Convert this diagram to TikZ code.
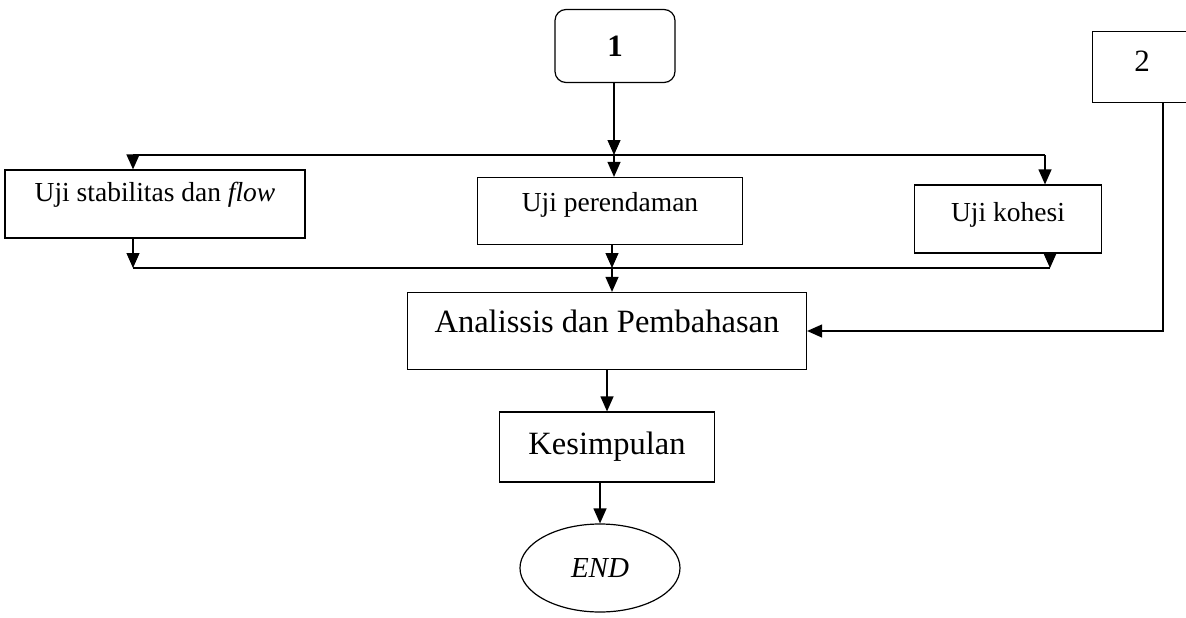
\documentclass[tikz,border=0pt]{standalone}
\usepackage{fontspec}
\setmainfont{Liberation Serif}
\usetikzlibrary{arrows.meta,positioning,shapes.geometric}
\newcommand{\lift}[2]{\raisebox{#1}[.7em][.25em]{#2}}
\tikzset{
  >={Triangle[length=15pt,width=13pt]},
  % kotak
  box/.style={draw,line width=1.2pt,inner sep=0pt,
              font=\fontsize{27.5}{30}\selectfont},
  bigbox/.style={box,font=\fontsize{32.5}{35}\selectfont},
  tag/.style={box,font=\fontsize{31}{33}\selectfont},
  endnode/.style={ellipse,draw,line width=1.2pt,inner sep=0pt,
                  minimum width=160pt,minimum height=88pt,
                  font=\fontsize{29}{31}\selectfont\itshape},
  % garis
  lnk/.style={draw,line width=1.2pt},
  arr/.style={->,draw,line width=1.2pt},
}

\begin{document}
\begin{tikzpicture}[x=1pt,y=-1pt]
\useasboundingbox (0,0) rectangle (1186,618);
  \node[tag,rounded corners=11pt,minimum width=120pt,minimum height=73pt,
        font=\fontsize{31}{33}\selectfont\bfseries] (one) at (615,46) {1};
  \node[tag,minimum width=99pt,minimum height=71pt] (two) at (1142,67) {\lift{2pt}{2}};
  \node[box,minimum width=300pt,minimum height=68pt] (stab) at (155,204)
       {\lift{9pt}{Uji stabilitas dan \textit{flow}}};
  \node[box,minimum width=265pt,minimum height=67pt] (rendam) at (610,211)
       {\lift{6pt}{Uji perendaman}};
  \node[box,minimum width=187pt,minimum height=68pt] (kohesi) at (1008,219)
       {\lift{4pt}{Uji kohesi}};
  \node[bigbox,minimum width=399pt,minimum height=77pt] (analisis) at (607,331)
       {\lift{6pt}{Analissis dan Pembahasan}};
  \node[bigbox,minimum width=215pt,minimum height=70pt] (simpul) at (607,447)
       {Kesimpulan};
  \node[endnode] (end) at (600,568) {END};
  % percabangan atas
  \coordinate (busL) at (133,155);
  \coordinate (busM) at (614,155);
  \coordinate (busR) at (1045,155);
  \draw[arr] (one.south -| busM) -- (busM);
  \draw[lnk] (busL) -- (busR);
  \draw[arr] (busL) -- (stab.north -| busL);
  \draw[arr] (busM) -- (rendam.north -| busM);
  \draw[arr] (busR) -- (kohesi.north -| busR);
  % pertemuan bawah
  \coordinate (lowL) at (133,268);
  \coordinate (lowM) at (612,268);
  \coordinate (lowR) at (1050,268);
  \draw[arr] (stab.south -| lowL) -- (lowL);
  \draw[arr] (rendam.south -| lowM) -- (lowM);
  \draw[arr] (kohesi.south -| lowR) -- (lowR);
  \draw[lnk] (lowL) -- (lowR);
  \draw[arr] (lowM) -- (analisis.north -| lowM);
  % dari 2
  \coordinate (elbow) at (1163,331);
  \draw[arr] (two.south -| elbow) -- (elbow) -- (analisis.east);
  \draw[arr] (analisis) -- (simpul);
  \draw[arr] (simpul.south -| end) -- (end);
\end{tikzpicture}
\end{document}
